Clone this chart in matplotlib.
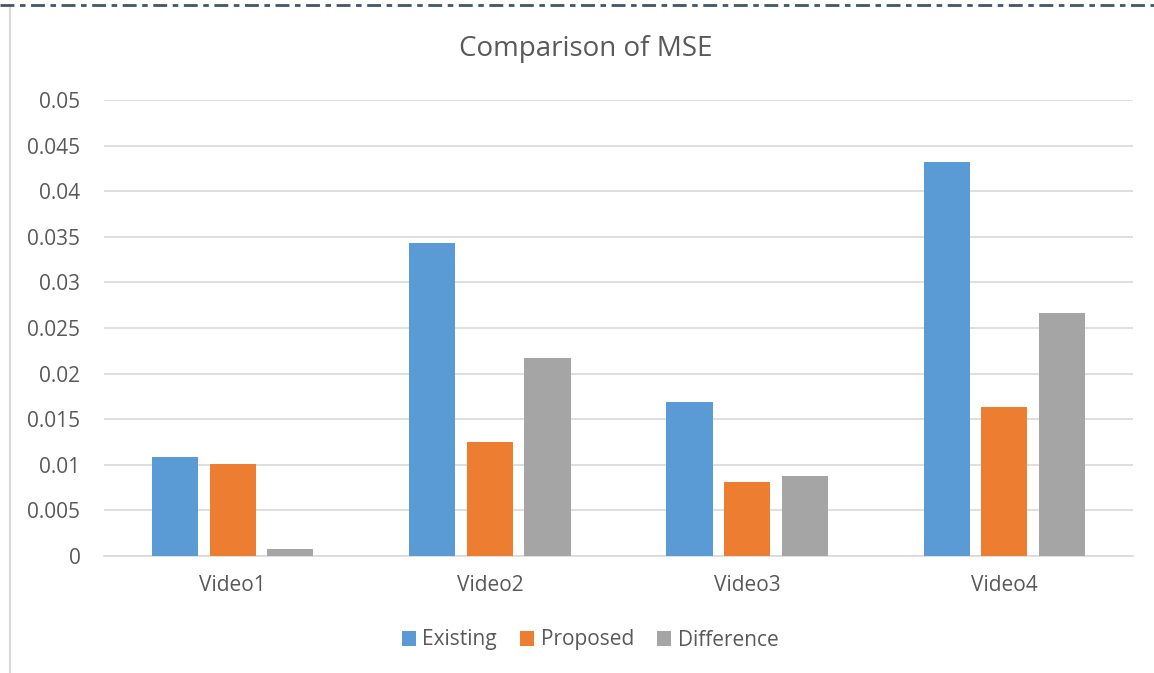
import matplotlib
matplotlib.use("Agg")
import matplotlib.pyplot as plt
from matplotlib.lines import Line2D
import numpy as np

categories = ["Video1", "Video2", "Video3", "Video4"]
existing = [0.0109, 0.0343, 0.0169, 0.0432]
proposed = [0.0101, 0.0125, 0.0081, 0.0163]
difference = [0.0008, 0.0217, 0.0088, 0.0266]
series_names = ["Existing", "Proposed", "Difference"]
colors = ["#5B9BD5", "#ED7D31", "#A5A5A5"]
yticks = [0, 0.005, 0.01, 0.015, 0.02, 0.025, 0.03, 0.035, 0.04, 0.045, 0.05]
ytick_labels = ["0", "0.005", "0.01", "0.015", "0.02", "0.025", "0.03", "0.035", "0.04", "0.045", "0.05"]

plt.rcParams['font.family'] = ['Open Sans', 'DejaVu Sans']
txt = "#595959"

fig = plt.figure(figsize=(11.54, 6.73), dpi=100)
ax = fig.add_axes([104/1154, 1-556/673, (1133-104)/1154, (556-100)/673])

x = np.arange(len(categories))
w = 0.179
step = 0.224
for i, (vals, name, c) in enumerate(zip([existing, proposed, difference], series_names, colors)):
    ax.bar(x + (i-1)*step, vals, width=w, color=c, label=name, zorder=3)

ax.set_xlim(-0.5, len(categories)-0.5)
ax.set_ylim(0, 0.05)
ax.set_yticks(yticks)
ax.set_yticklabels(ytick_labels)
ax.set_xticks(x)
ax.set_xticklabels(categories)
ax.tick_params(axis='both', length=0, labelsize=15, colors=txt)
ax.tick_params(axis='y', pad=17)
ax.tick_params(axis='x', pad=14)
ax.yaxis.grid(True, color="#D9D9D9", linewidth=1.2, zorder=0)
for s in ["top", "right", "left"]:
    ax.spines[s].set_visible(False)
ax.spines["bottom"].set_color("#D9D9D9")
ax.spines["bottom"].set_linewidth(1.2)

fig.text(586/1154, 1-49/673, "Comparison of MSE", ha="center", va="center", fontsize=20, color=txt)

leg = fig.legend(loc="center", bbox_to_anchor=(590/1154, 1-640/673), ncol=3, frameon=False,
                 fontsize=15, handlelength=0.7, handleheight=0.7, handletextpad=0.3,
                 columnspacing=1.1, labelcolor=txt)

# border decorations
fig.add_artist(Line2D([0, 1], [1-5/673, 1-5/673], transform=fig.transFigure,
                      color="#44546A", linewidth=2, linestyle=(0, (5, 2, 2, 2))))
fig.add_artist(Line2D([10/1154, 10/1154], [0, 1-8/673], transform=fig.transFigure,
                      color="#D9D9D9", linewidth=1.5))

fig.savefig("out.png", dpi=100)
